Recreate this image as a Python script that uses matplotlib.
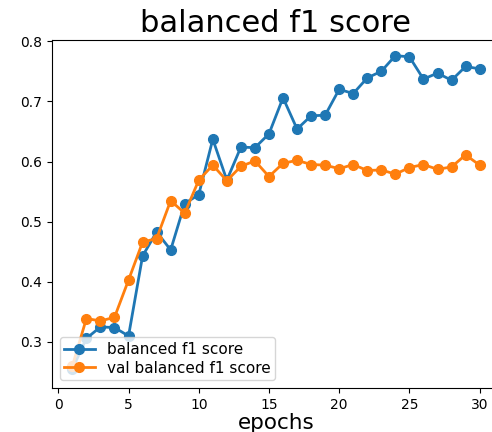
import numpy as np
import matplotlib
matplotlib.use("Agg")
import matplotlib.pyplot as plt

epochs = np.arange(1, 31)
train_f1 = [0.255, 0.306, 0.325, 0.324, 0.310, 0.443, 0.483, 0.453, 0.530, 0.545,
            0.637, 0.569, 0.624, 0.623, 0.646, 0.706, 0.654, 0.676, 0.677, 0.720,
            0.713, 0.739, 0.750, 0.776, 0.774, 0.737, 0.747, 0.735, 0.758, 0.754]
val_f1 = [0.260, 0.339, 0.335, 0.341, 0.403, 0.466, 0.472, 0.535, 0.514, 0.569,
          0.594, 0.568, 0.592, 0.601, 0.575, 0.597, 0.602, 0.595, 0.594, 0.588,
          0.595, 0.585, 0.586, 0.579, 0.590, 0.595, 0.587, 0.591, 0.611, 0.594]

fig = plt.figure(figsize=(4.92, 4.32), dpi=100)
# axes runs past the right edge, the reference is cropped there
ax = fig.add_axes([52/492, 44/432, 448/492, 348/432])

ax.plot(epochs, train_f1, marker='o', markersize=7, linewidth=2, label='balanced f1 score')
ax.plot(epochs, val_f1, marker='o', markersize=7, linewidth=2, label='val balanced f1 score')

ax.set_xlim(-0.45, 31.45)
ax.set_ylim(0.2235, 0.802)
ax.set_xticks([0, 5, 10, 15, 20, 25, 30])
ax.set_yticks([0.3, 0.4, 0.5, 0.6, 0.7, 0.8])
ax.tick_params(labelsize=10)

ax.set_title('balanced f1 score', fontsize=22)
ax.set_xlabel('epochs', fontsize=15.5, labelpad=1)
ax.legend(loc='lower left', fontsize=11, labelspacing=0.25, borderpad=0.3)

fig.savefig('out.png', dpi=100)
